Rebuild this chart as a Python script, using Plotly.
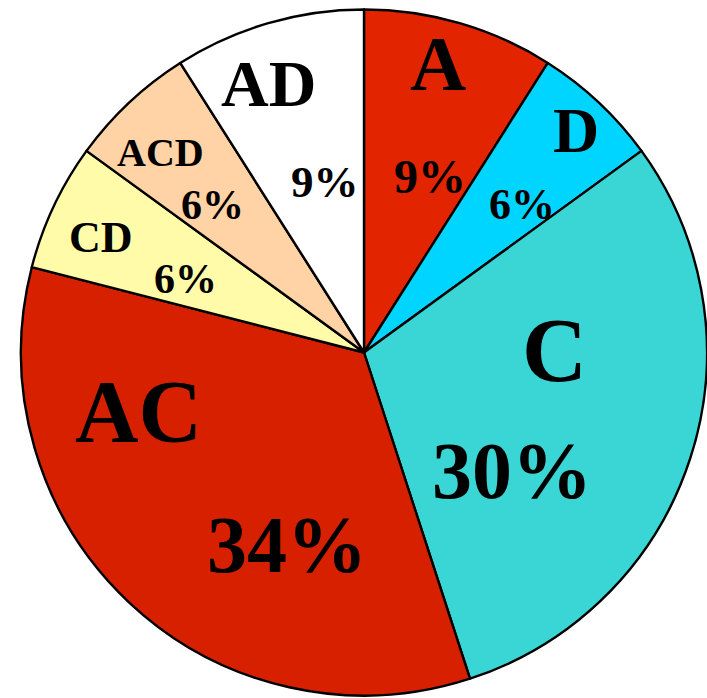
import plotly.graph_objects as go

# Slice data, clockwise from 12 o'clock
groups = ["A", "D", "C", "AC", "CD", "ACD", "AD"]
shares = [9, 6, 30, 34, 6, 6, 9]
colors = ["#E32400", "#00D5FF", "#3AD5D5", "#D62000", "#FFFBA8", "#FFD3A6", "#FFFFFF"]

W, H = 707, 698
L, T, R, B = 21, 7, 0, 0
PW, PH = W - L - R, H - T - B

# Label placement in pixels: (group x, group y, group size, pct x, pct y, pct size)
label_style = {
    "A":   (438, 66, 78, 430, 177, 48),
    "D":   (576, 132, 64, 522, 205, 44),
    "C":   (554, 354, 90, 512, 474, 80),
    "AC":  (138, 415, 88, 287, 548, 80),
    "CD":  (101, 238, 44, 185, 279, 42),
    "ACD": (160, 152, 40, 212, 205, 42),
    "AD":  (268, 85, 66, 325, 182, 45),
}


def px(x, y, size):
    # nudge so the glyph body (not the line box) sits on the target point
    y = y - 0.07 * size + 3
    return (x - L) / PW, 1 - (y - T) / PH


fig = go.Figure(
    go.Pie(
        labels=groups,
        values=shares,
        sort=False,
        direction="clockwise",
        rotation=0,
        marker=dict(colors=colors, line=dict(color="#000000", width=2.4)),
        textinfo="none",
        hoverinfo="label+percent",
        showlegend=False,
    )
)

annotations = []
for g, v in zip(groups, shares):
    gx, gy, gs, vx, vy, vs = label_style[g]
    for text, x, y, size in ((g, gx, gy, gs), (f"{v}%", vx, vy, vs)):
        ax, ay = px(x, y, size)
        annotations.append(
            dict(
                text=f"<b>{text}</b>",
                x=ax, y=ay, xref="paper", yref="paper",
                xanchor="center", yanchor="middle",
                showarrow=False,
                font=dict(family="Liberation Serif", size=size, color="#000000"),
            )
        )

fig.update_layout(
    width=W,
    height=H,
    margin=dict(l=L, r=R, t=T, b=B, pad=0),
    paper_bgcolor="#FFFFFF",
    plot_bgcolor="#FFFFFF",
    annotations=annotations,
)

fig.write_html("out.html")
